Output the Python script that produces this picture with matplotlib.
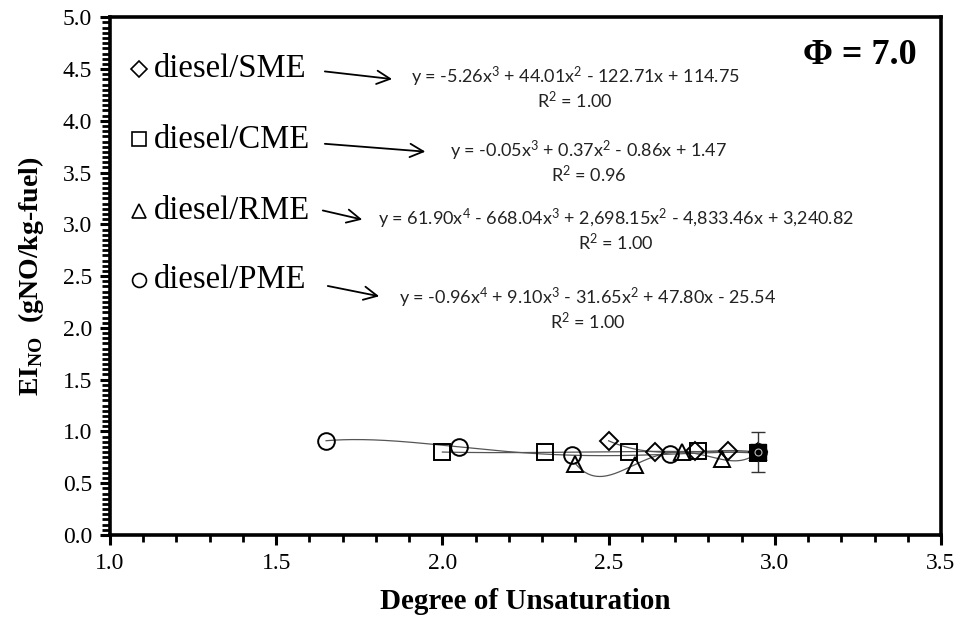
import numpy as np
import matplotlib
matplotlib.use('Agg')
import matplotlib.pyplot as plt
from matplotlib.ticker import MultipleLocator, FormatStrFormatter

plt.rcParams['font.family'] = 'Liberation Serif'
plt.rcParams['mathtext.fontset'] = 'custom'
plt.rcParams['mathtext.rm'] = 'Lato'
plt.rcParams['mathtext.it'] = 'Lato'
plt.rcParams['mathtext.bf'] = 'Liberation Serif:bold'

# degree of unsaturation vs EI_NO
sme_x = [2.50, 2.64, 2.76, 2.86, 2.95]
sme_y = [0.91, 0.80, 0.81, 0.81, 0.80]
cme_x = [2.00, 2.31, 2.56, 2.77, 2.95]
cme_y = [0.80, 0.80, 0.80, 0.81, 0.79]
rme_x = [2.40, 2.58, 2.72, 2.84, 2.95]
rme_y = [0.69, 0.68, 0.80, 0.73, 0.80]
pme_x = [1.65, 2.05, 2.39, 2.685, 2.95]
pme_y = [0.91, 0.85, 0.77, 0.78, 0.80]
diesel_x = 2.95
diesel_y = 0.80
diesel_err = 0.19

labels = ['diesel/SME', 'diesel/CME', 'diesel/RME', 'diesel/PME']
equations = [r'y = -5.26x$^3$ + 44.01x$^2$ - 122.71x + 114.75',
             r'y = -0.05x$^3$ + 0.37x$^2$ - 0.86x + 1.47',
             r'y = 61.90x$^4$ - 668.04x$^3$ + 2,698.15x$^2$ - 4,833.46x + 3,240.82',
             r'y = -0.96x$^4$ + 9.10x$^3$ - 31.65x$^2$ + 47.80x - 25.54']
r2 = [r'R$^2$ = 1.00', r'R$^2$ = 0.96', r'R$^2$ = 1.00', r'R$^2$ = 1.00']

series = [(sme_x, sme_y, 'D', 3, 9), (cme_x, cme_y, 's', 3, 12),
          (rme_x, rme_y, '^', 4, 12), (pme_x, pme_y, 'o', 4, 12)]

fig = plt.figure(figsize=(9.6, 6.17), dpi=100)
ax = fig.add_axes([0.1146, 0.133, 0.8656, 0.839])

# trend lines (polynomial fits)
for xs, ys, m, deg, ms in series:
    c = np.polyfit(xs, ys, deg)
    xx = np.linspace(min(xs), max(xs), 200)
    ax.plot(xx, np.polyval(c, xx), color='#555555', lw=0.9, zorder=2)

for xs, ys, m, deg, ms in series:
    ax.plot(xs, ys, ls='none', marker=m, ms=ms, mfc='none', mec='black', mew=1.4, zorder=3)

ax.errorbar([diesel_x], [diesel_y], yerr=[diesel_err], fmt='s', ms=11, mfc='black',
            mec='black', ecolor='#333333', elinewidth=1.0, capsize=5, zorder=4)
ax.plot([diesel_x], [diesel_y], ls='none', marker='o', ms=5, mfc='none', mec='#bbbbbb', mew=0.8, zorder=5)

# labels with arrows and fit equations
lab_y = [4.50, 3.82, 3.13, 2.46]
mk = ['D', 's', '^', 'o']
mks = [8, 10, 10, 10]
arr = [((1.638, 4.48), (1.857, 4.40)), ((1.638, 3.78), (1.957, 3.70)),
       ((1.632, 3.14), (1.767, 3.04)), ((1.647, 2.41), (1.818, 2.30))]
eq_pos = [(2.399, 4.42), (2.441, 3.71), (2.522, 3.05), (2.438, 2.29)]
for i in range(4):
    ax.plot([1.087], [lab_y[i]], marker=mk[i], ms=mks[i], mfc='none', mec='black', mew=1.2)
    ax.text(1.132, lab_y[i], labels[i], fontsize=23.5, va='center', ha='left')
    ax.annotate('', xy=arr[i][1], xytext=arr[i][0],
                arrowprops=dict(arrowstyle='->', color='black', lw=1.3, mutation_scale=24))
    ax.text(eq_pos[i][0], eq_pos[i][1], equations[i], fontsize=13, ha='center', va='center',
            family=['Lato', 'DejaVu Sans'], color='#222222')
    ax.text(eq_pos[i][0], eq_pos[i][1] - 0.225, r2[i], fontsize=13, ha='center', va='center',
            family=['Lato', 'DejaVu Sans'], color='#222222')

ax.text(3.428, 4.63, 'Φ = 7.0', fontsize=26, fontweight='bold', ha='right', va='center')

ax.set_xlim(1.0, 3.5)
ax.set_ylim(0.0, 5.0)
ax.xaxis.set_major_locator(MultipleLocator(0.5))
ax.xaxis.set_minor_locator(MultipleLocator(0.1))
ax.yaxis.set_major_locator(MultipleLocator(0.5))
ax.yaxis.set_minor_locator(MultipleLocator(0.05))
ax.xaxis.set_major_formatter(FormatStrFormatter('%.1f'))
ax.yaxis.set_major_formatter(FormatStrFormatter('%.1f'))
ax.tick_params(which='major', direction='out', length=7, width=2.2, labelsize=17, pad=6, colors='black')
ax.tick_params(which='minor', direction='out', length=5, width=2.0)
ax.tick_params(axis='y', which='minor', length=6)
for s in ax.spines.values():
    s.set_linewidth(2.6)

ax.set_xlabel('Degree of Unsaturation', fontsize=21, fontweight='bold', labelpad=10)
ax.set_ylabel(r'EI$_{\mathbf{NO}}$  (gNO/kg-fuel)', fontsize=20, fontweight='bold', labelpad=12)

fig.savefig('out.png', dpi=100)
